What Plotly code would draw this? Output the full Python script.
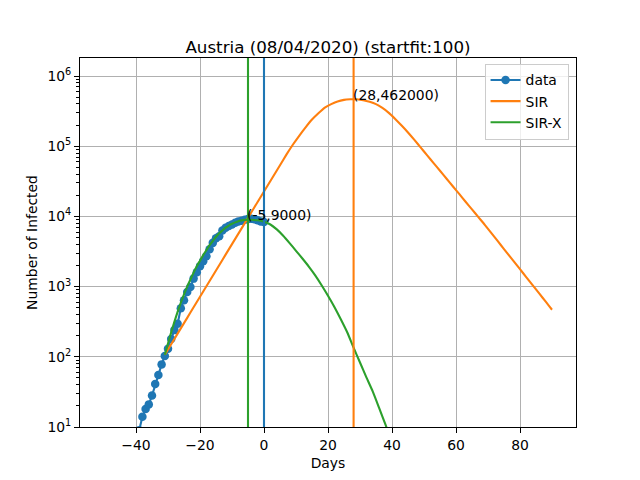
import math
import plotly.graph_objects as go

# ---- data ----
data_days = list(range(-39, 1))
data_vals = [9, 14, 18, 21, 28, 41, 55, 78, 103, 130, 180, 240, 295, 490, 640,
             840, 990, 1300, 1600, 1950, 2300, 2700, 3400, 4200, 4900, 5200,
             6300, 6900, 7300, 7700, 8100, 8500, 8700, 9000, 9200, 9300, 9100,
             8800, 8500, 8300]

sir_days = [-31, -29, -27, -25, -23, -21, -19, -17, -15, -13, -11, -9, -7, -5,
            -3, -1, 1, 3, 5, 7, 9, 11, 13, 15, 17, 19, 21, 23, 25, 27, 28, 29,
            31, 33, 35, 37, 39, 41, 43, 45, 47, 49, 51, 53, 55, 57, 59, 61, 63,
            65, 67, 69, 71, 73, 75, 77, 79, 81, 83, 85, 87, 89, 90]
sir_vals = [107, 151, 214, 302, 427, 603, 851, 1200, 1700, 2400, 3390, 4790,
            6760, 9550, 13500, 19100, 26900, 38000, 53700, 75900, 105000,
            141000, 186000, 240000, 295000, 355000, 398000, 435000, 457000,
            466000, 468000, 466000, 452000, 429000, 398000, 351000, 299000,
            245000, 197000, 157000, 123000, 95500, 74100, 57500, 44700, 34700,
            26900, 20900, 16200, 12600, 9770, 7590, 5820, 4470, 3430, 2630,
            2020, 1550, 1190, 912, 700, 537, 468]

sirx_days = [-31, -30, -29, -28, -27, -26, -25, -24, -23, -22, -21, -20, -19,
             -18, -17, -16, -15, -14, -13, -12, -11, -10, -9, -8, -7, -6, -5,
             -4, -2, 0, 2, 4, 6, 8, 10, 12, 14, 16, 18, 20, 22, 24, 26, 28, 30,
             32, 34, 36, 38, 40]
sirx_vals = [107, 155, 224, 316, 437, 589, 776, 1000, 1259, 1585, 1950, 2344,
             2818, 3311, 3890, 4467, 5129, 5754, 6310, 6918, 7413, 7852, 8222,
             8551, 8790, 8933, 9000, 8960, 8810, 8414, 7674, 6531, 5309, 4169,
             3236, 2512, 1928, 1445, 1047, 741, 513, 343, 224, 135, 83, 51, 32,
             18.6, 10.7, 6.0]

vline_x = [0, -5, 28]
vline_colors = ["#1f77b4", "#2ca02c", "#ff7f0e"]

peak_labels = ["(-5,9000)", "(28,462000)"]
peak_x = [-5, 28]
peak_y = [9000, 462000]

title = "Austria (08/04/2020) (startfit:100)"
x_ticks = [-40, -20, 0, 20, 40, 60, 80]
y_ticks = [10, 100, 1000, 10000, 100000, 1000000]
y_ticktext = ["10<sup>1</sup>", "10<sup>2</sup>", "10<sup>3</sup>",
              "10<sup>4</sup>", "10<sup>5</sup>", "10<sup>6</sup>"]

FONT = "DejaVu Sans"

fig = go.Figure()
fig.add_trace(go.Scatter(x=data_days, y=data_vals, mode="lines+markers",
                         name="data",
                         line=dict(color="#1f77b4", width=2.1),
                         marker=dict(color="#1f77b4", size=8.5)))
fig.add_trace(go.Scatter(x=sir_days, y=sir_vals, mode="lines", name="SIR",
                         line=dict(color="#ff7f0e", width=2.1, shape="spline",
                                   smoothing=0.6)))
fig.add_trace(go.Scatter(x=sirx_days, y=sirx_vals, mode="lines", name="SIR-X",
                         line=dict(color="#2ca02c", width=2.1, shape="spline",
                                   smoothing=0.6)))

for xv, c in zip(vline_x, vline_colors):
    fig.add_shape(type="line", xref="x", yref="paper", x0=xv, x1=xv, y0=0, y1=1,
                  line=dict(color=c, width=2.1), layer="above")

for t, xv, yv in zip(peak_labels, peak_x, peak_y):
    fig.add_annotation(x=xv, y=math.log10(yv), xref="x", yref="y", text=t,
                       showarrow=False, xanchor="left", yanchor="bottom",
                       xshift=-3, yshift=-5,
                       font=dict(family=FONT, size=13.9, color="black"))

axis_common = dict(showline=True, linecolor="black", linewidth=1.1, mirror=True,
                   ticks="outside", ticklen=4.9, tickwidth=1.1, tickcolor="black",
                   showgrid=True, gridcolor="#b0b0b0", gridwidth=1.1,
                   zeroline=False,
                   tickfont=dict(family=FONT, size=13.9, color="black"))

fig.update_xaxes(range=[-57.5, 97.5], tickvals=x_ticks,
                 title=dict(text="Days", font=dict(family=FONT, size=13.9, color="black"),
                            standoff=6),
                 **axis_common)
fig.update_yaxes(type="log", range=[1, 6.257], tickvals=y_ticks, ticktext=y_ticktext,
                 minor=dict(ticks="outside", ticklen=2.8, tickwidth=0.8,
                            tickcolor="black", showgrid=False, dtick="D1"),
                 title=dict(text="Number of Infected",
                            font=dict(family=FONT, size=13.9, color="black"),
                            standoff=6),
                 **axis_common)

fig.update_layout(
    width=640, height=480,
    margin=dict(l=80, r=64, t=58, b=53, autoexpand=False),
    paper_bgcolor="white", plot_bgcolor="white",
    font=dict(family=FONT, size=13.9, color="black"),
    title=dict(text=title, x=0.5, xref="paper", xanchor="center",
               y=1, yref="paper", yanchor="bottom", pad=dict(b=5),
               font=dict(family=FONT, size=16.7, color="black")),
    legend=dict(x=0.985, y=0.985, xanchor="right", yanchor="top",
                bgcolor="rgba(255,255,255,0.8)", bordercolor="#cccccc",
                borderwidth=1, font=dict(family=FONT, size=13.9, color="black"),
                itemwidth=30, tracegroupgap=0),
    showlegend=True,
)

fig.write_html("out.html", config={"displayModeBar": False},
               post_script="document.body.style.margin='0';document.body.style.padding='0';")
